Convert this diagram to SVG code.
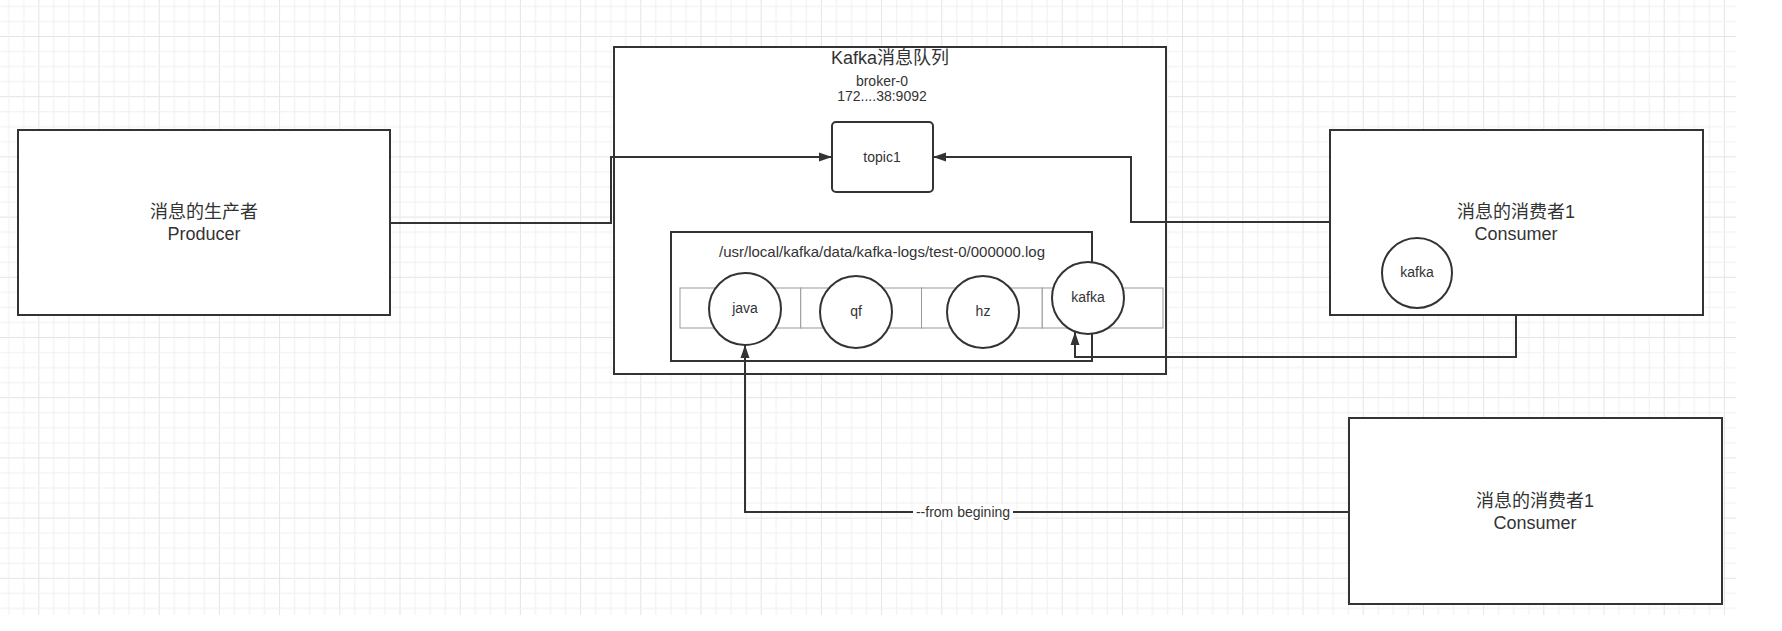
<svg xmlns="http://www.w3.org/2000/svg" width="1782" height="631" viewBox="0 0 1782 631">
<style>
.box{fill:#fff;stroke:#333;stroke-width:2}
.cell{fill:#fff;stroke:#999;stroke-width:1}
.circ{fill:#fff;stroke:#333;stroke-width:2}
.edge{fill:none;stroke:#333;stroke-width:2}
.t{font-family:"Liberation Sans","Noto Sans CJK SC",sans-serif;fill:#333;text-anchor:middle}
.big{font-size:18px}
.mid{font-size:15px}
.sm{font-size:14px}
</style>
<defs>
<pattern id="grid" patternUnits="userSpaceOnUse" x="38.3" y="36" width="60.2" height="60.2">
<path d="M0.5,0 V60.2 M0,0.5 H60.2" stroke="#e4e4e4" stroke-width="1" fill="none"/>
<path d="M15.55,0 V60.2 M30.6,0 V60.2 M45.65,0 V60.2 M0,15.55 H60.2 M0,30.6 H60.2 M0,45.65 H60.2" stroke="#f0f0f0" stroke-width="1" fill="none"/>
</pattern>
<marker id="arr" markerUnits="userSpaceOnUse" markerWidth="13" markerHeight="10" refX="13" refY="5" orient="auto">
<path d="M0,0.5 L13,5 L0,9.5 z" fill="#333"/>
</marker>
</defs>
<rect x="0" y="0" width="1782" height="631" fill="#fff"/>
<rect x="0" y="0" width="1736" height="615" fill="url(#grid)"/>

<g id="producer">
<rect class="box" x="18" y="130" width="372" height="185"/>
<text class="t big" x="204" y="218">消息的生产者</text>
<text class="t big" x="204" y="240">Producer</text>
</g>

<g id="kafka-queue">
<rect class="box" x="614" y="47" width="552" height="327"/>
<text class="t big" x="890" y="64">Kafka消息队列</text>
<text class="t sm" x="882" y="86">broker-0</text>
<text class="t sm" x="882" y="101">172....38:9092</text>
</g>

<g id="topic1">
<rect class="box" x="832" y="122" width="101" height="70" rx="4"/>
<text class="t sm" x="882" y="162">topic1</text>
</g>

<g id="log-file">
<rect class="box" x="671" y="232" width="421" height="129"/>
<text class="t mid" x="882" y="257">/usr/local/kafka/data/kafka-logs/test-0/000000.log</text>
<rect class="cell" x="680" y="288" width="120.75" height="40"/>
<rect class="cell" x="800.75" y="288" width="120.75" height="40"/>
<rect class="cell" x="921.5" y="288" width="120.75" height="40"/>
<rect class="cell" x="1042.25" y="288" width="120.75" height="40"/>
</g>

<g id="msg-java">
<ellipse class="circ" cx="745" cy="309" rx="36" ry="36"/>
<text class="t sm" x="745" y="313">java</text>
</g>
<g id="msg-qf">
<ellipse class="circ" cx="856" cy="312" rx="36" ry="36"/>
<text class="t sm" x="856" y="316">qf</text>
</g>
<g id="msg-hz">
<ellipse class="circ" cx="983" cy="312" rx="36" ry="36"/>
<text class="t sm" x="983" y="316">hz</text>
</g>
<g id="msg-kafka">
<ellipse class="circ" cx="1088" cy="298" rx="36" ry="36"/>
<text class="t sm" x="1088" y="302">kafka</text>
</g>

<g id="consumer1">
<rect class="box" x="1330" y="130" width="373" height="185"/>
<text class="t big" x="1516" y="218">消息的消费者1</text>
<text class="t big" x="1516" y="240">Consumer</text>
<ellipse class="circ" cx="1417" cy="273" rx="35" ry="35"/>
<text class="t sm" x="1417" y="277">kafka</text>
</g>

<g id="consumer2">
<rect class="box" x="1349" y="418" width="373" height="186"/>
<text class="t big" x="1535" y="507">消息的消费者1</text>
<text class="t big" x="1535" y="529">Consumer</text>
</g>

<g id="connectors">
<path class="edge" d="M390,223 H611 V157 H832" marker-end="url(#arr)"/>
<path class="edge" d="M1330,222 H1131 V157 H933" marker-end="url(#arr)"/>
<path class="edge" d="M1516,315 V357 H1075 V332" marker-end="url(#arr)"/>
<path class="edge" d="M1349,512 H745 V345" marker-end="url(#arr)"/>
<rect x="913" y="504" width="100" height="16" fill="#fff"/>
<text class="t sm" x="963" y="517">--from begining</text>
</g>
</svg>
